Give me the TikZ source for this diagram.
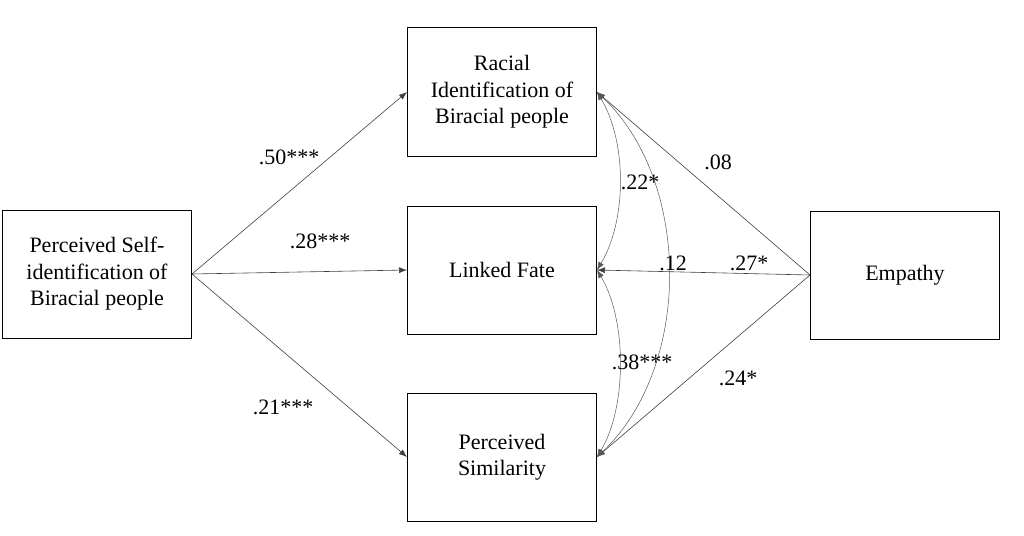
\documentclass[tikz,border=0pt]{standalone}
\usepackage{fontspec}
\setmainfont{Liberation Serif}
\usetikzlibrary{arrows.meta}

\tikzset{
  box/.style={draw,line width=1pt,minimum width=189pt,minimum height=128pt,align=center,inner sep=0pt},
  path/.style={-{Latex[length=8pt,width=6pt]},gray!50!black,line width=0.6pt},
  cov/.style={{Latex[length=8pt,width=6pt]}-{Latex[length=8pt,width=6pt]},gray!70!black,line width=0.5pt}
}

\begin{document}
\begin{tikzpicture}[x=1pt,y=-1pt,font=\rmfamily\fontsize{22}{26.5}\selectfont]
\useasboundingbox (0,0) rectangle (1024,535);
\node[box] (self) at (97,274) {Perceived Self-\\identification of\\Biracial people};
\node[box] (racial) at (502,92) {Racial\\Identification of\\Biracial people};
\node[box] (linked) at (502,270) {Linked Fate};
\node[box] (simil) at (502,457) {Perceived\\Similarity};
\node[box] (empathy) at (905,275) {Empathy};
% a paths
\draw[path] (self.east) -- (racial.west);
\draw[path] (self.east) -- (linked.west);
\draw[path] (self.east) -- (simil.west);
% b paths
\draw[path] (empathy.west) -- (racial.east);
\draw[path] (empathy.west) -- (linked.east);
\draw[path] (empathy.west) -- (simil.east);
% covariances
\draw[cov] (racial.east) .. controls +(30,50) and +(30,-50) .. (linked.east);
\draw[cov] (linked.east) .. controls +(30,50) and +(30,-50) .. (simil.east);
\draw[cov] (racial.east) .. controls +(95,90) and +(95,-90) .. (simil.east);
% coefficients
\node (a1) at (289,157) {.50***};
\node (a2) at (320,241) {.28***};
\node (a3) at (283,407) {.21***};
\node (b1) at (718,162) {.08};
\node (b2) at (749,263) {.27*};
\node (b3) at (738,378) {.24*};
\node (c1) at (640,182) {.22*};
\node (c2) at (673,263) {.12};
\node (c3) at (642,362) {.38***};
\end{tikzpicture}
\end{document}
